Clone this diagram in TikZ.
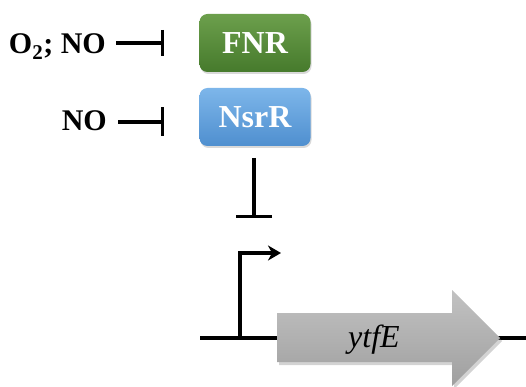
\documentclass[tikz,border=0pt]{standalone}
\usepackage{fontspec}
\setmainfont{Liberation Serif}
\usetikzlibrary{arrows.meta,shadows}
\definecolor{fnrtop}{HTML}{6C9F4C}
\definecolor{fnrbot}{HTML}{467A2C}
\definecolor{nsrtop}{HTML}{7DB6EA}
\definecolor{nsrbot}{HTML}{4F8FCF}
\begin{document}
\begin{tikzpicture}[x=1pt,y=-1pt,
  lbl/.style={font=\fontsize{30}{34}\selectfont\bfseries, inner sep=0pt},
  rbox/.style={rounded corners=8pt, minimum width=111pt, minimum height=58pt,
    font=\fontsize{32}{36}\selectfont\bfseries, text=white,
    drop shadow={shadow xshift=1pt, shadow yshift=-2pt, opacity=0.3}},
  wire/.style={line width=3.2pt},
  inh/.style={wire, -{Bar[width=#1, line width=3.2pt]}},
  inh/.default=26pt,
]
\useasboundingbox (0,0) rectangle (526,387);
% regulators
\node[rbox, top color=fnrtop, bottom color=fnrbot] (fnr) at (255,43) {FNR};
\node[rbox, top color=nsrtop, bottom color=nsrbot] (nsrr) at (255,117) {NsrR};
% signals
\node[lbl, anchor=base east] (o2) at (106,54) {O\textsubscript{2}; NO};
\node[lbl, anchor=base east] (no) at (107,131) {NO};
\coordinate (a1) at (116,43);
\coordinate (b1) at (164,43);
\coordinate (a2) at (118,122);
\coordinate (b2) at (164,122);
\draw[inh] (a1) -- (b1);
\draw[inh=29pt] (a2) -- (b2);
% repression of promoter
\coordinate (r1) at (254,158);
\coordinate (r2) at (254,218);
\draw[inh=36pt] (r1) -- (r2);
% DNA
\coordinate (d0) at (200,338);
\coordinate (d1) at (526,338);
\draw[wire] (d0) -- (d1);
% promoter
\coordinate (p0) at (240,338);
\coordinate (p1) at (281,253);
\draw[wire, -{Stealth[length=13pt, width=15pt, inset=4pt]}] (p0) |- (p1);
% gene
\path[top color=gray!48, bottom color=gray!75,
  drop shadow={shadow xshift=2pt, shadow yshift=-3pt, opacity=0.35}]
  (277,313) -- (452,313) -- (452,290) -- (500,338) -- (452,386) -- (452,362) -- (277,362) -- cycle;
\node[font=\fontsize{32}{36}\selectfont\itshape, inner sep=0pt] (gene) at (374,340) {ytfE};
\end{tikzpicture}
\end{document}
